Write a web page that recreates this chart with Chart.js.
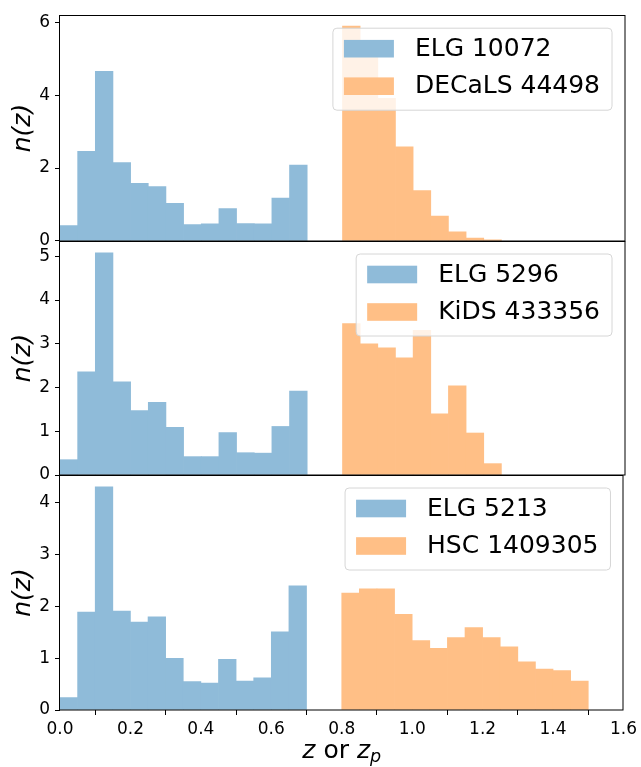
<!DOCTYPE html>
<html><head><meta charset="utf-8">
<script src="https://cdn.jsdelivr.net/npm/chart.js@4"></script>
<style>
html,body{margin:0;padding:0;background:#fff;}
#wrap{position:relative;width:641px;height:767px;background:#fff;}
canvas{position:absolute;left:0;top:0;}
</style></head><body>
<div id="wrap">
<canvas id="c1" width="641" height="767"></canvas>
<canvas id="c2" width="641" height="767"></canvas>
<canvas id="c3" width="641" height="767"></canvas>
</div>
<script>
// ---- data ----
const elgCenters = [0.025,0.075,0.125,0.175,0.225,0.275,0.325,0.375,0.425,0.475,0.525,0.575,0.625,0.675];
const elg1 = [0.42,2.46,4.65,2.15,1.58,1.49,1.03,0.45,0.47,0.89,0.48,0.47,1.18,2.08];
const elg2 = [0.35,2.36,5.08,2.13,1.47,1.66,1.09,0.42,0.42,0.97,0.51,0.50,1.11,1.92];
const elg3 = [0.24,1.89,4.31,1.91,1.70,1.80,1.00,0.55,0.52,0.98,0.56,0.62,1.51,2.40];
const decalsCenters = [0.825,0.875,0.925,0.975,1.025,1.075,1.125,1.175,1.225];
const decals = [5.89,5.07,3.91,2.58,1.38,0.68,0.25,0.08,0.03];
const kidsCenters = [0.825,0.875,0.925,0.975,1.025,1.075,1.125,1.175,1.225];
const kids = [3.46,3.00,2.91,2.68,3.31,1.40,2.04,0.96,0.26];
const hscCenters = [0.825,0.875,0.925,0.975,1.025,1.075,1.125,1.175,1.225,1.275,1.325,1.375,1.425,1.475];
const hsc = [2.26,2.34,2.34,1.85,1.34,1.19,1.40,1.59,1.40,1.22,0.93,0.79,0.76,0.56];
const labels1 = ['ELG 10072','DECaLS 44498'];
const labels2 = ['ELG 5296','KiDS 433356'];
const labels3 = ['ELG 5213','HSC 1409305'];
const yTicks1 = [0,2,4,6];
const yTicks2 = [0,1,2,3,4,5];
const yTicks3 = [0,1,2,3,4];
const yMax = [6.19,5.35,4.54];
const xTicks = [0,0.2,0.4,0.6,0.8,1.0,1.2,1.4,1.6];
const yTitle = 'n(z)';

// ---- style ----
const FONT = 'DejaVu Sans';
const BLUE = '#8fbbd9';
const ORANGE = '#ffbf86';

const pts = (xs, ys) => xs.map((x,i)=>({x:x, y:ys[i]}));

function rr(ctx,x,y,w,h,r){
  ctx.beginPath();
  ctx.moveTo(x+r,y);
  ctx.arcTo(x+w,y,x+w,y+h,r);
  ctx.arcTo(x+w,y+h,x,y+h,r);
  ctx.arcTo(x,y+h,x,y,r);
  ctx.arcTo(x,y,x+w,y,r);
  ctx.closePath();
}

const boxLegend = {
  id:'boxLegend',
  afterDatasetsDraw(chart){
    const ctx = chart.ctx, ca = chart.chartArea;
    ctx.save();
    ctx.font = '25px "'+FONT+'"';
    const items = chart.data.datasets.map(d=>({label:d.label,color:d.backgroundColor}));
    const tw = Math.max(...items.map(i=>ctx.measureText(i.label).width));
    const padL=11, hw=50, gap=22, padR=11, h=82;
    const w = padL+hw+gap+tw+padR;
    const x = ca.right-13-w, y = ca.top+13;
    rr(ctx,x,y,w,h,4);
    ctx.fillStyle='rgba(255,255,255,0.8)';
    ctx.fill();
    ctx.strokeStyle='#d6d6d6';
    ctx.lineWidth=1;
    ctx.stroke();
    items.forEach((it,i)=>{
      const hy = y+11.7+i*37.5;
      ctx.fillStyle = it.color;
      ctx.fillRect(x+padL, hy, hw, 17.6);
      ctx.fillStyle='#000';
      ctx.textBaseline='middle';
      ctx.textAlign='left';
      ctx.fillText(it.label, x+padL+hw+gap-1, hy+9.5);
    });
    ctx.restore();
  }
};

const frame = {
  id:'frame',
  afterDraw(chart){
    const ctx=chart.ctx, ca=chart.chartArea;
    ctx.save();
    ctx.strokeStyle='#000';
    ctx.lineWidth=1;
    const l=Math.round(ca.left), r=Math.round(ca.right), t=Math.round(ca.top), b=Math.round(ca.bottom);
    ctx.strokeRect(l-0.5, t+0.5, r-l+0.5, b-t-0.5);
    ctx.restore();
  }
};

const xTitle = {
  id:'xTitle',
  afterDraw(chart){
    if(!chart.options.plugins.xTitle || !chart.options.plugins.xTitle.display) return;
    const ctx=chart.ctx, ca=chart.chartArea;
    ctx.save();
    const parts = [
      {t:'z', f:'italic 25px "'+FONT+'"', dy:0},
      {t:' or ', f:'25px "'+FONT+'"', dy:0},
      {t:'z', f:'italic 25px "'+FONT+'"', dy:0},
      {t:'p', f:'italic 17.5px "'+FONT+'"', dy:4}
    ];
    let total=0;
    parts.forEach(p=>{ctx.font=p.f; p.w=ctx.measureText(p.t).width; total+=p.w;});
    let x=(ca.left+ca.right)/2-total/2;
    const base=758;
    ctx.fillStyle='#000';
    ctx.textBaseline='alphabetic';
    ctx.textAlign='left';
    parts.forEach(p=>{ctx.font=p.f; ctx.fillText(p.t,x,base+p.dy); x+=p.w;});
    ctx.restore();
  }
};

function makeChart(id, cfg){
  const showX = cfg.showX;
  return new Chart(document.getElementById(id), {
    type:'bar',
    data:{datasets:[
      {label:cfg.labels[0], data:pts(elgCenters,cfg.blue), backgroundColor:BLUE, borderWidth:0},
      {label:cfg.labels[1], data:pts(cfg.oCenters,cfg.orange), backgroundColor:ORANGE, borderWidth:0}
    ]},
    options:{
      responsive:false, animation:false,
      layout:{padding:{top:cfg.top, bottom:cfg.bottom, left:0, right:16}},
      datasets:{bar:{grouped:false, barPercentage:1, categoryPercentage:1}},
      plugins:{legend:{display:false}, tooltip:{enabled:false}, xTitle:{display:showX}},
      scales:{
        x:{type:'linear', min:0, max:1.6, offset:false, display:showX,
           afterBuildTicks:s=>{s.ticks=xTicks.map(v=>({value:v}));},
           afterFit:s=>{ s.height = showX ? 57 : 0; },
           ticks:{font:{family:FONT,size:17}, color:'#000', padding:4, maxRotation:0, autoSkip:false,
                  callback:v=>Number(v).toFixed(1)},
           grid:{drawOnChartArea:false, drawTicks:true, tickLength:5, color:'#000'},
           border:{display:false}},
        y:{min:0, max:cfg.ymax,
           afterBuildTicks:s=>{s.ticks=cfg.yticks.map(v=>({value:v}));},
           afterFit:s=>{s.width=60;},
           ticks:{font:{family:FONT,size:17}, color:'#000', padding:5},
           grid:{drawOnChartArea:false, drawTicks:true, tickLength:5, color:'#000'},
           border:{display:false},
           title:{display:true, text:yTitle, color:'#000', font:{family:FONT,size:25,style:'italic'}, padding:{top:8,bottom:0}}}
      }
    },
    plugins:[boxLegend, frame, xTitle]
  });
}

makeChart('c1',{labels:labels1, blue:elg1, oCenters:decalsCenters, orange:decals, ymax:yMax[0], yticks:yTicks1, top:7, bottom:767-241, showX:false});
makeChart('c2',{labels:labels2, blue:elg2, oCenters:kidsCenters, orange:kids, ymax:yMax[1], yticks:yTicks2, top:241, bottom:767-475, showX:false});
makeChart('c3',{labels:labels3, blue:elg3, oCenters:hscCenters, orange:hsc, ymax:yMax[2], yticks:yTicks3, top:475, bottom:0, showX:true});
</script>
</body></html>
